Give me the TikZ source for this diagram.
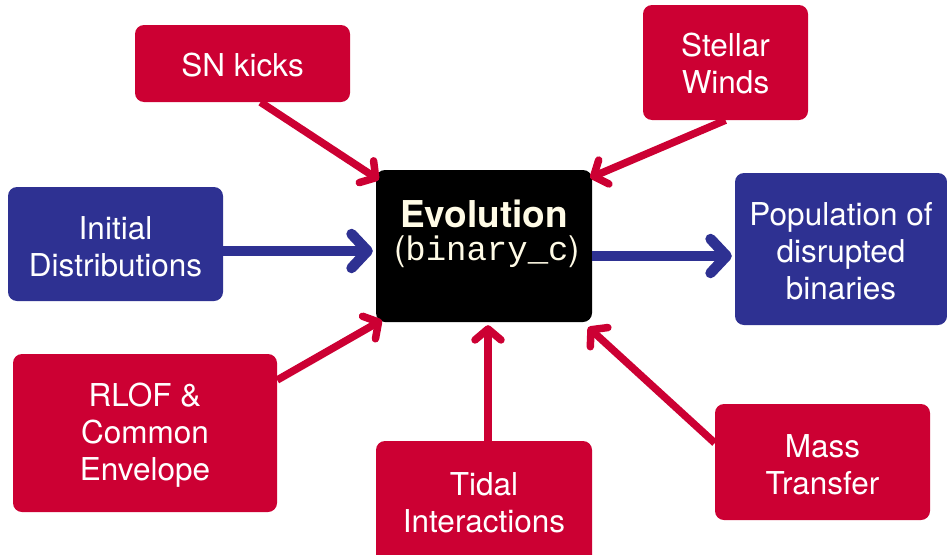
\documentclass[tikz,border=0pt]{standalone}
\usepackage{fontspec}
\setmainfont{TeX Gyre Heros}
\setmonofont{Liberation Mono}
\usetikzlibrary{arrows.meta,calc}
\definecolor{cred}{HTML}{CC0033}
\definecolor{cblue}{HTML}{2E3192}
\definecolor{cream}{HTML}{FFFBE6}
\begin{document}
\begin{tikzpicture}[x=1pt,y=-1pt,
  box/.style={rounded corners=9pt, text=white, align=center, inner sep=0pt,
              font=\fontsize{31.5}{37}\selectfont},
  redbox/.style={box, fill=cred},
  bluebox/.style={box, fill=cblue},
  rarr/.style={draw=cred, line width=7.5pt, -{Straight Barb[round,length=11pt,width=26pt]}},
  barr/.style={draw=cblue, line width=10.5pt, -{Straight Barb[round,length=16pt,width=34pt]}}]
\useasboundingbox (0,0) rectangle (947,554);

% boxes
\node[redbox, minimum width=215pt, minimum height=77pt] (sn) at (242.5,63.5) {\rule{0pt}{26pt}SN kicks};
\node[redbox, minimum width=165pt, minimum height=115pt] (stellar) at (725.5,62.5) {\rule{0pt}{26pt}Stellar\\Winds};
\node[bluebox, minimum width=215pt, minimum height=114pt] (init) at (115.5,244) {\rule{0pt}{28pt}Initial\\Distributions};
\node[fill=black, rounded corners=9pt, minimum width=216pt, minimum height=152pt, inner sep=0pt] (evo) at (484,246) {};
\node[text=cream, font=\fontsize{37}{40}\bfseries\selectfont, inner sep=0pt] (evot1) at (484,214) {Evolution};
\node[text=cream, font=\fontsize{34}{36}\selectfont, inner sep=0pt] (evot2) at (487,252) {(\texttt{binary\_c})};
\node[bluebox, minimum width=212pt, minimum height=152pt] (pop) at (841,249) {\rule{0pt}{28pt}Population of\\disrupted\\binaries};
\node[redbox, minimum width=264pt, minimum height=158pt] (rlof) at (145,433) {\rule{0pt}{28pt}RLOF \&\\Common\\Envelope};
\node[redbox, minimum width=216pt, minimum height=130pt] (tidal) at (484,506) {};
\node[text=white, align=center, inner sep=0pt, font=\fontsize{31.5}{37}\selectfont] (tidalt) at (484,503) {Tidal\\Interactions};
\node[redbox, minimum width=215pt, minimum height=116pt] (mass) at (822.5,462) {\rule{0pt}{28pt}Mass\\Transfer};

% connectors
\draw[rarr] ($(sn.south)+(18,0)$) -- ($(evo.north west)+(3,10)$);
\draw[rarr] (stellar.south) -- ($(evo.north east)+(-2,8)$);
\draw[barr] ($(init.east)+(0,7)$) -- ($(evo.west)+(-3,5)$);
\draw[barr] ($(evo.east)+(0,10)$) -- ($(pop.west)+(-3,7)$);
\draw[rarr] ($(rlof.east)+(0,-53)$) -- ($(evo.south west)+(6,-2)$);
\draw[rarr] ($(tidal.north)+(4,0)$) -- ($(evo.south)+(4,3)$);
\draw[rarr] ($(mass.west)+(0,-19)$) -- ($(evo.south east)+(-4,5)$);
\end{tikzpicture}
\end{document}
